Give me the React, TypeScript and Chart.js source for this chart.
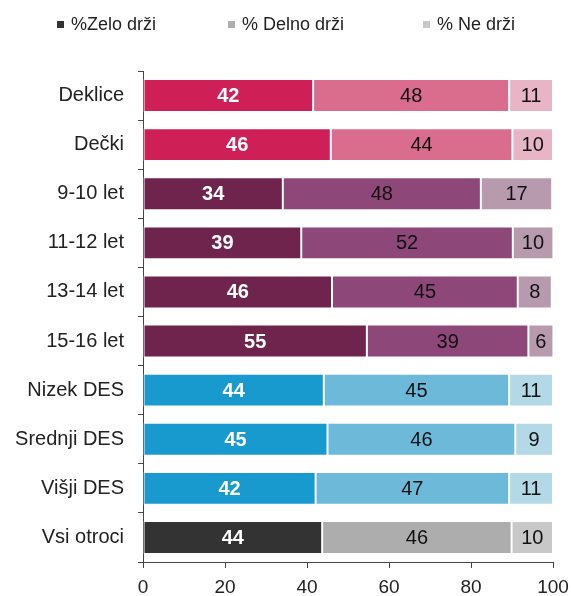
import React, { useEffect, useRef } from 'react';
import { Chart, registerables } from 'chart.js';

Chart.register(...registerables);

const categories = ['Deklice', 'Dečki', '9-10 let', '11-12 let', '13-14 let', '15-16 let', 'Nizek DES', 'Srednji DES', 'Višji DES', 'Vsi otroci'];
const seriesNames = ['%Zelo drži', '% Delno drži', '% Ne drži'];
const zeloDrzi = [41.5, 45.8, 34.1, 38.6, 46.1, 54.6, 44.1, 45.0, 42.1, 43.7];
const delnoDrzi = [47.8, 44.3, 48.3, 51.6, 45.3, 39.4, 45.2, 45.8, 47.2, 46.2];
const neDrzi = [10.7, 9.9, 17.4, 9.9, 8.3, 6.1, 10.7, 9.2, 10.7, 10.1];
const xTicks = [0, 20, 40, 60, 80, 100];

const darkColors = ['#CE1F56', '#CE1F56', '#6F244E', '#6F244E', '#6F244E', '#6F244E', '#189ACE', '#189ACE', '#189ACE', '#333333'];
const midColors = ['#DA6C8E', '#DA6C8E', '#8D4778', '#8D4778', '#8D4778', '#8D4778', '#6DB9D9', '#6DB9D9', '#6DB9D9', '#ADADAD'];
const lightColors = ['#E8B5C7', '#E8B5C7', '#B89AAF', '#B89AAF', '#B89AAF', '#B89AAF', '#B4D9E6', '#B4D9E6', '#B4D9E6', '#C8C8C8'];
const legendColors = ['#333333', '#ADADAD', '#C8C8C8'];

const FONT = '"Liberation Sans", Arial, sans-serif';

const valueLabels = {
  id: 'valueLabels',
  afterDatasetsDraw(chart: any) {
    const ctx = chart.ctx;
    const area = chart.chartArea;
    ctx.save();
    ctx.textAlign = 'center';
    ctx.textBaseline = 'middle';
    chart.data.datasets.forEach((ds: any, di: number) => {
      const meta = chart.getDatasetMeta(di);
      meta.data.forEach((bar: any, i: number) => {
        const left = Math.max(Math.min(bar.x, bar.base), area.left);
        const right = Math.min(Math.max(bar.x, bar.base), area.right);
        const cx = (left + right) / 2;
        ctx.font = (di === 0 ? 'bold ' : '') + '20px ' + FONT;
        ctx.fillStyle = di === 0 ? '#ffffff' : '#111111';
        ctx.fillText(String(Math.round(ds.data[i])), cx, bar.y + 1);
      });
    });
    ctx.restore();
  },
};

export default function App() {
  const ref = useRef<HTMLCanvasElement>(null);
  useEffect(() => {
    if (!ref.current) return;
    const chart = new Chart(ref.current, {
      type: 'bar',
      data: {
        labels: categories,
        datasets: [
          { label: seriesNames[0], data: zeloDrzi, backgroundColor: darkColors },
          { label: seriesNames[1], data: delnoDrzi, backgroundColor: midColors },
          { label: seriesNames[2], data: neDrzi, backgroundColor: lightColors },
        ].map((d) => ({
          ...d,
          borderColor: 'rgba(255,255,255,0.85)',
          borderWidth: 1,
          borderSkipped: false,
          categoryPercentage: 1,
          barPercentage: 0.67,
        })),
      },
      options: {
        indexAxis: 'y',
        responsive: false,
        animation: false,
        devicePixelRatio: 1,
        layout: { padding: { top: 71, right: 18, left: 0, bottom: 0 } },
        plugins: {
          legend: { display: false },
          tooltip: { enabled: false },
        },
        scales: {
          x: {
            stacked: true,
            min: 0,
            max: 100,
            afterBuildTicks: (scale: any) => {
              scale.ticks = xTicks.map((v) => ({ value: v }));
            },
            afterFit: (scale: any) => {
              scale.height = 34;
              scale.paddingLeft = 0;
              scale.paddingRight = 0;
            },
            ticks: {
              color: '#222',
              font: { family: FONT, size: 19 },
              padding: 8,
              maxRotation: 0,
            },
            grid: {
              drawOnChartArea: false,
              drawTicks: true,
              tickLength: 6,
              color: '#444',
            },
            border: { display: true, color: '#444', width: 1 },
          },
          y: {
            stacked: true,
            afterFit: (scale: any) => {
              scale.width = 143;
              scale.paddingTop = 0;
              scale.paddingBottom = 0;
            },
            ticks: {
              color: '#222',
              font: { family: FONT, size: 20 },
              padding: 14,
            },
            grid: {
              drawOnChartArea: false,
              drawTicks: true,
              tickLength: 5,
              color: '#444',
              offset: true,
            },
            border: { display: true, color: '#444', width: 1 },
          },
        },
      },
      plugins: [valueLabels],
    });
    return () => chart.destroy();
  }, []);

  const legendPos = [57, 228, 423];
  return (
    <div style={{ position: 'absolute', left: 0, top: 0, width: 571, height: 596, background: '#fff' }}>
      <canvas ref={ref} width={571} height={596} style={{ width: 571, height: 596, display: 'block' }} />
      {seriesNames.map((name, i) => (
        <div
          key={name}
          style={{
            position: 'absolute',
            left: legendPos[i],
            top: 13,
            height: 22,
            display: 'flex',
            alignItems: 'center',
            fontFamily: FONT,
            fontSize: 18,
            color: '#222',
            whiteSpace: 'nowrap',
          }}
        >
          <span style={{ display: 'inline-block', width: 7, height: 7, background: legendColors[i], marginRight: 7 }} />
          <span>{name}</span>
        </div>
      ))}
    </div>
  );
}
